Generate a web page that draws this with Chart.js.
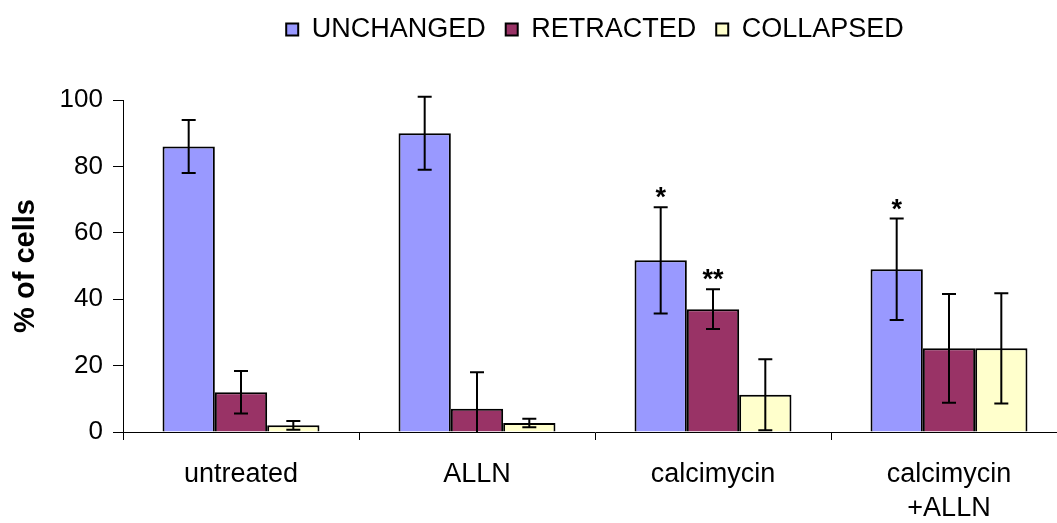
<!DOCTYPE html>
<html>
<head>
<meta charset="utf-8">
<script src="https://cdn.jsdelivr.net/npm/chart.js@4/dist/chart.umd.min.js"></script>
<style>
  html, body { margin: 0; padding: 0; background: #fff; overflow: hidden; }
  #wrap { width: 1057px; height: 523px; overflow: hidden; position: relative; }
  canvas { display: block; }
</style>
</head>
<body>
<div id="wrap"><canvas id="c" width="1067" height="523"></canvas></div>
<script>
// Treatment groups
const categories = ['untreated', 'ALLN', 'calcimycin', ['calcimycin', '+ALLN']];

// Mean percentage of cells per morphology, with error half-widths
const unchanged    = [86, 90, 51.7, 49];
const unchangedErr = [8, 11, 16, 15.3];
const retracted    = [12, 7, 37, 25.2];
const retractedErr = [6.4, 11, 6, 16.4];
const collapsed    = [2, 2.7, 11.2, 25.2];
const collapsedErr = [1.3, 1.3, 10.7, 16.6];

// Significance marks above the bars
const unchangedSig = ['', '', '*', '*'];
const retractedSig = ['', '', '**', ''];
const collapsedSig = ['', '', '', ''];

// Y axis ticks
const yTicks = [0, 20, 40, 60, 80, 100];

const FONT = "'Liberation Sans', Arial, Helvetica, sans-serif";

// Error bars (clipped at zero) and significance stars
const errorBars = {
  id: 'errorBars',
  afterDatasetsDraw(chart) {
    const ctx = chart.ctx;
    const y = chart.scales.y;
    ctx.save();
    chart.data.datasets.forEach((ds, di) => {
      const meta = chart.getDatasetMeta(di);
      meta.data.forEach((bar, i) => {
        const v = ds.data[i], e = ds.errors[i];
        const hi = v + e, lo = Math.max(v - e, 0);
        const yHi = y.getPixelForValue(hi);
        const yLo = y.getPixelForValue(lo);
        const cap = 7;
        ctx.strokeStyle = '#000';
        ctx.lineWidth = 2;
        ctx.beginPath();
        ctx.moveTo(bar.x, yHi); ctx.lineTo(bar.x, yLo);
        ctx.moveTo(bar.x - cap, yHi); ctx.lineTo(bar.x + cap, yHi);
        if (v - e > 0) { ctx.moveTo(bar.x - cap, yLo); ctx.lineTo(bar.x + cap, yLo); }
        ctx.stroke();
        const mark = ds.marks[i];
        if (mark) {
          ctx.fillStyle = '#000';
          ctx.font = 'bold 27px ' + FONT;
          ctx.textAlign = 'center';
          ctx.textBaseline = 'alphabetic';
          ctx.fillText(mark, bar.x, yHi - 1);
        }
      });
    });
    ctx.restore();
  }
};

new Chart(document.getElementById('c'), {
  type: 'bar',
  data: {
    labels: categories,
    datasets: [
      { label: 'UNCHANGED', data: unchanged, errors: unchangedErr, marks: unchangedSig,
        backgroundColor: '#9999FF', borderColor: '#000', borderWidth: 2 },
      { label: 'RETRACTED', data: retracted, errors: retractedErr, marks: retractedSig,
        backgroundColor: '#993366', borderColor: '#000', borderWidth: 2 },
      { label: 'COLLAPSED', data: collapsed, errors: collapsedErr, marks: collapsedSig,
        backgroundColor: '#FFFFCC', borderColor: '#000', borderWidth: 2 }
    ]
  },
  options: {
    responsive: false,
    animation: false,
    devicePixelRatio: 1,
    layout: { padding: { top: -4, left: 0, right: 0, bottom: 0 } },
    datasets: { bar: { categoryPercentage: 0.665, barPercentage: 1 } },
    plugins: {
      legend: {
        position: 'top',
        fullSize: false,
        labels: {
          font: { family: FONT, size: 27 },
          color: '#000',
          boxWidth: 12,
          boxHeight: 12,
          padding: 20
        }
      },
      subtitle: {
        display: true,
        text: '',
        weight: 100,
        font: { size: 10, lineHeight: 1 },
        padding: { top: 0, bottom: 37 }
      },
      tooltip: { enabled: false }
    },
    scales: {
      x: {
        grid: { offset: true, drawOnChartArea: false, tickLength: 8, color: '#000' },
        border: { color: '#000', width: 1 },
        ticks: {
          font: { family: FONT, size: 27, lineHeight: 1.25 },
          color: '#000',
          padding: 18,
          maxRotation: 0
        },
        afterFit(scale) { scale.height = 91; }
      },
      y: {
        min: 0,
        max: 100,
        afterBuildTicks(scale) { scale.ticks = yTicks.map(v => ({ value: v })); },
        grid: { drawOnChartArea: false, tickLength: 10, color: '#000' },
        border: { color: '#000', width: 1 },
        ticks: {
          font: { family: FONT, size: 26 },
          color: '#000',
          padding: 10
        },
        title: {
          display: true,
          text: '% of cells',
          font: { family: FONT, size: 29, weight: 'bold' },
          color: '#000',
          padding: { top: 9, bottom: 0 }
        },
        afterFit(scale) { scale.width = 123; }
      }
    }
  },
  plugins: [errorBars]
});
</script>
</body>
</html>
